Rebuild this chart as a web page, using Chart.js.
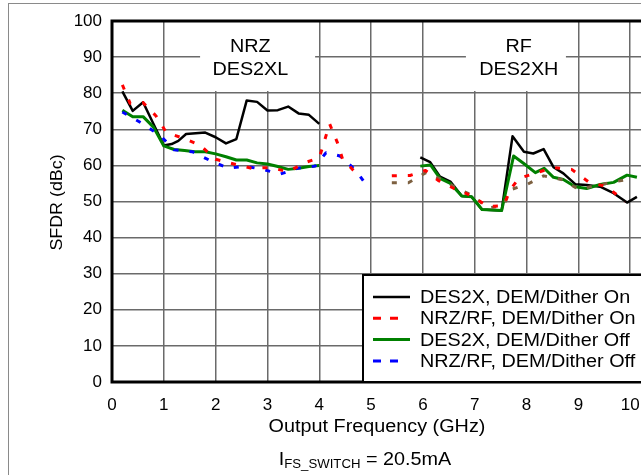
<!DOCTYPE html>
<html>
<head>
<meta charset="utf-8">
<title>SFDR vs Output Frequency</title>
<script src="https://cdn.jsdelivr.net/npm/chart.js@4.4.1/dist/chart.umd.min.js"></script>
<style>
    html, body { margin: 0; padding: 0; background: #fff; overflow: hidden; }
    #wrap { position: relative; width: 641px; height: 475px; overflow: hidden; }
    #sfdrChart { position: absolute; left: 0; top: 0; }
</style>
</head>
<body>
<div id="wrap"><canvas id="sfdrChart" width="720" height="475" style="width:720px;height:475px"></canvas></div>
<script>
// Series (x in GHz, y in dBc); null marks a break in the curve
const desOnFreq = [0.2, 0.4, 0.6, 1.0, 1.15, 1.28, 1.43, 1.8, 2.0, 2.2, 2.4, 2.6, 2.8, 3.0, 3.2, 3.4, 3.6, 3.8, 4.0,
    5.0,
    5.95, 6.14, 6.33, 6.53, 6.75, 6.94, 7.14, 7.52, 7.73, 7.95, 8.13, 8.33, 8.52, 8.71, 8.94, 9.16, 9.42, 9.68, 9.94, 10.13];
const desOnSfdr = [80.5, 75.1, 77.5, 65.5, 65.9, 66.8, 68.7, 69.1, 67.8, 66.1, 67.3, 78.0, 77.6, 75.2, 75.3, 76.3, 74.4, 74.0, 71.5,
    null,
    62.2, 60.9, 56.9, 55.5, 51.5, 51.3, 47.8, 47.5, 68.1, 63.8, 63.3, 64.5, 59.5, 57.8, 54.8, 54.6, 54.1, 52.3, 49.7, 51.3];

const nrzOnFreq = [0.2, 0.35, 0.6, 0.85, 1.05, 1.4, 1.7, 2.0, 2.35, 2.7, 3.05, 3.4, 3.75, 4.0, 4.2, 4.35, 4.45, 4.75,
    5.1,
    5.4, 5.75, 6.05, 6.3, 6.6, 6.95, 7.25, 7.55, 7.7, 7.85, 8.2, 8.52, 8.87, 9.21, 9.55, 9.9];
const nrzOnSfdr = [82.3, 77.2, 77.4, 73.7, 69.1, 67.4, 65.6, 61.7, 60.4, 59.2, 59.4, 58.3, 60.9, 62.1, 71.5, 66.3, 61.7, 57.3,
    null,
    57.1, 57.2, 58.6, 55.8, 53.6, 51.5, 48.6, 48.8, 53.5, 56.4, 58.0, 59.4, 58.9, 55.3, 54.1, 50.0];

const desOffFreq = [0.2, 0.4, 0.6, 0.8, 1.0, 1.2, 1.4, 1.6, 1.8, 2.0, 2.2, 2.4, 2.6, 2.8, 3.0, 3.2, 3.4, 3.6, 3.8, 4.0,
    5.0,
    5.95, 6.15, 6.33, 6.53, 6.75, 6.94, 7.14, 7.52, 7.75, 7.94, 8.17, 8.34, 8.52, 8.71, 8.94, 9.16, 9.42, 9.68, 9.94, 10.13];
const desOffSfdr = [75.3, 73.5, 73.5, 70.6, 65.4, 64.4, 64.1, 63.8, 63.8, 63.2, 62.4, 61.5, 61.5, 60.7, 60.4, 59.7, 58.9, 59.2, 59.7, 60.0,
    null,
    59.8, 60.1, 56.4, 55.0, 51.5, 51.3, 47.8, 47.5, 62.6, 60.6, 58.0, 59.2, 56.7, 56.1, 54.1, 53.6, 54.7, 55.3, 57.3, 56.7];

const nrzOffFreq = [0.2, 0.6, 0.95, 1.2, 1.55, 1.9, 2.25, 2.57, 2.9, 3.25, 3.58, 3.92, 4.13, 4.4, 4.7, 4.95,
    5.15,
    5.4, 5.72, 6.06, 6.33, 6.64, 6.94, 7.25, 7.55, 7.7, 8.02, 8.33, 8.68, 9.0, 9.35, 9.71, 10.06];
const nrzOffSfdr = [74.8, 71.5, 68.0, 64.3, 63.8, 61.3, 59.2, 59.8, 58.9, 57.6, 59.2, 59.8, 63.5, 62.6, 58.7, 53.8,
    null,
    55.2, 55.2, 58.0, 56.3, 53.8, 51.8, 48.2, 48.8, 53.3, 54.8, 57.1, 56.1, 53.4, 54.4, 55.5, 56.4];

const seriesLabels = ['DES2X, DEM/Dither On', 'NRZ/RF, DEM/Dither On', 'DES2X, DEM/Dither Off', 'NRZ/RF, DEM/Dither Off'];
const xTickStep = 1;
const yTickStep = 10;

const FONT = "'Liberation Sans', Arial, sans-serif";
const TEXT_STRETCH = 1.1;
const BROWN = '#7d6040';
const BLUE = '#0000ff';

function toPoints(xs, ys) {
    return xs.map((x, i) => ({ x: x, y: ys[i] }));
}

function stretchedText(ctx, text, x, y, size, align, stretch) {
    ctx.save();
    ctx.font = size + 'px ' + FONT;
    ctx.translate(x, y);
    ctx.scale(stretch, 1);
    ctx.textAlign = align;
    ctx.fillText(text, 0, 0);
    ctx.restore();
}

// region labels at the top of the plot
const regionLabels = [
    { center: 2.67, from: 1.7, to: 3.92, lines: ['NRZ', 'DES2XL'] },
    { center: 7.85, from: 6.83, to: 8.76, lines: ['RF', 'DES2XH'] }
];

const decorPlugin = {
    id: 'decor',
    beforeDraw(chart) {
        const ctx = chart.ctx;
        ctx.save();
        ctx.fillStyle = '#fff';
        ctx.fillRect(0, 0, chart.width, chart.height);
        ctx.strokeStyle = '#8a8a8a';
        ctx.lineWidth = 1;
        ctx.strokeRect(8.5, 3.5, 1000, 1000);
        ctx.restore();
    },
    beforeDatasetsDraw(chart) {
        const ctx = chart.ctx;
        const area = chart.chartArea;
        const xs = chart.scales.x;
        const ys = chart.scales.y;
        ctx.save();
        // white label boxes hide the grid behind the region names
        regionLabels.forEach(lbl => {
            const left = xs.getPixelForValue(lbl.from);
            const right = xs.getPixelForValue(lbl.to);
            ctx.fillStyle = '#fff';
            ctx.fillRect(left, area.top, right - left, ys.getPixelForValue(80.6) - area.top);
            ctx.fillStyle = '#000';
            ctx.textBaseline = 'middle';
            const cx = xs.getPixelForValue(lbl.center);
            stretchedText(ctx, lbl.lines[0], cx, area.top + 26, 18, 'center', TEXT_STRETCH);
            stretchedText(ctx, lbl.lines[1], cx, area.top + 49, 18, 'center', TEXT_STRETCH);
        });
        // plot frame
        ctx.strokeStyle = '#000';
        ctx.lineWidth = 3;
        ctx.beginPath();
        ctx.moveTo(area.right, area.top);
        ctx.lineTo(area.left, area.top);
        ctx.lineTo(area.left, area.bottom);
        ctx.lineTo(area.right, area.bottom);
        ctx.lineTo(area.right, area.top);
        ctx.stroke();
        ctx.restore();
    },
    afterDraw(chart) {
        const ctx = chart.ctx;
        const area = chart.chartArea;
        ctx.save();
        ctx.fillStyle = '#000';
        ctx.textBaseline = 'middle';

        // axis titles
        ctx.save();
        ctx.translate(57, (area.top + area.bottom) / 2 + 1);
        ctx.rotate(-Math.PI / 2);
        stretchedText(ctx, 'SFDR (dBc)', 0, 0, 17, 'center', 1.05);
        ctx.restore();
        stretchedText(ctx, 'Output Frequency (GHz)', 377, 427, 18, 'center', TEXT_STRETCH);

        // I_FS_SWITCH = 20.5mA with subscript
        const parts = [
            { t: 'I', size: 18, dy: 0 },
            { t: 'FS_SWITCH', size: 12, dy: 5 },
            { t: ' = 20.5mA', size: 18, dy: 0 }
        ];
        let total = 0;
        parts.forEach(p => {
            ctx.font = p.size + 'px ' + FONT;
            p.w = ctx.measureText(p.t).width * TEXT_STRETCH;
            total += p.w;
        });
        let px = 365 - total / 2;
        parts.forEach(p => {
            stretchedText(ctx, p.t, px, 460 + p.dy, p.size, 'left', TEXT_STRETCH);
            px += p.w;
        });

        // legend box in the lower right of the plot
        const lx = 363, ly = 275;
        ctx.fillStyle = '#fff';
        ctx.fillRect(lx, ly, 400, area.bottom - ly);
        ctx.strokeStyle = '#000';
        ctx.lineWidth = 2;
        ctx.strokeRect(lx, ly, 400, area.bottom - ly);
        chart.data.datasets.forEach((ds, i) => {
            const y = 297 + i * 21.3;
            ctx.strokeStyle = ds.borderColor;
            ctx.lineWidth = ds.borderWidth;
            ctx.setLineDash(ds.borderDash ? [8, 9] : []);
            ctx.beginPath();
            ctx.moveTo(373, y);
            ctx.lineTo(ds.borderDash ? 398 : 410, y);
            ctx.stroke();
            ctx.setLineDash([]);
            ctx.fillStyle = '#000';
            stretchedText(ctx, ds.label, 420, y + 1, 18, 'left', TEXT_STRETCH);
        });
        ctx.restore();
    }
};

const gridStyle = { color: '#6a6a6a', lineWidth: 1.5, drawTicks: false };

const ctx = document.getElementById('sfdrChart').getContext('2d');
const sfdrChart = new Chart(ctx, {
    type: 'line',
    data: {
        datasets: [
            {
                label: seriesLabels[0],
                data: toPoints(desOnFreq, desOnSfdr),
                borderColor: '#000000',
                borderWidth: 2.5,
                order: 3
            },
            {
                label: seriesLabels[1],
                data: toPoints(nrzOnFreq, nrzOnSfdr),
                borderColor: '#ff0000',
                borderWidth: 3,
                borderDash: [5, 11],
                order: 0
            },
            {
                label: seriesLabels[2],
                data: toPoints(desOffFreq, desOffSfdr),
                borderColor: '#008000',
                borderWidth: 3,
                order: 2
            },
            {
                label: seriesLabels[3],
                data: toPoints(nrzOffFreq, nrzOffSfdr),
                borderColor: BLUE,
                borderWidth: 3,
                borderDash: [5, 11],
                order: 1,
                segment: {
                    borderColor: c => c.p0.parsed.x > 5 ? BROWN : BLUE
                }
            }
        ]
    },
    options: {
        responsive: false,
        animation: false,
        events: [],
        elements: {
            point: { radius: 0 },
            line: { tension: 0, borderJoinStyle: 'round', borderCapStyle: 'butt' }
        },
        layout: { padding: { top: 21, right: 38, left: 0, bottom: 0 } },
        plugins: {
            legend: { display: false },
            tooltip: { enabled: false }
        },
        scales: {
            x: {
                type: 'linear',
                min: 0,
                max: 11,
                afterFit: scale => { scale.height = 93; },
                ticks: {
                    stepSize: xTickStep,
                    color: '#000',
                    font: { family: FONT, size: 17 },
                    padding: 13,
                    maxRotation: 0
                },
                grid: gridStyle,
                border: { display: false }
            },
            y: {
                min: 0,
                max: 100,
                afterFit: scale => { scale.width = 112; },
                ticks: {
                    stepSize: yTickStep,
                    color: '#000',
                    font: { family: FONT, size: 17 },
                    padding: 10
                },
                grid: gridStyle,
                border: { display: false }
            }
        }
    },
    plugins: [decorPlugin]
});
</script>
</body>
</html>
